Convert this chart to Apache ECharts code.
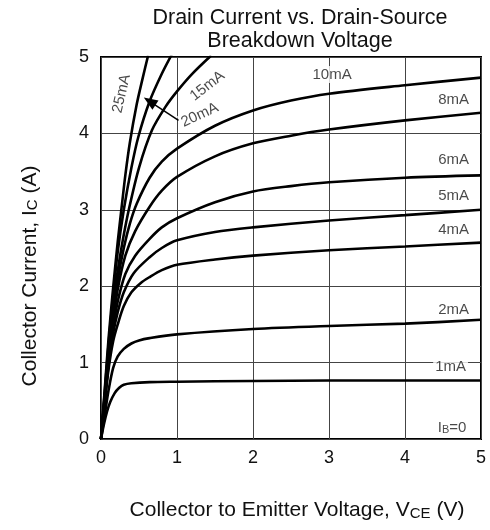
<!DOCTYPE html>
<html>
<head>
<meta charset="utf-8">
<script src="https://cdn.jsdelivr.net/npm/echarts@6/dist/echarts.min.js"></script>
<style>
  html, body { margin: 0; padding: 0; background: #fff; }
  #chart { width: 490px; height: 530px; }
</style>
</head>
<body>
<div id="chart"></div>
<script>
// Axis ticks
const vceTicks = [0, 1, 2, 3, 4, 5];
const icTicks = [0, 1, 2, 3, 4, 5];

// Output characteristics: [V_CE (V), I_C (A)] for each base current
const ib1mA = [[0,0],[0.04,0.2],[0.08,0.36],[0.12,0.48],[0.18,0.6],[0.24,0.67],[0.3,0.71],[0.4,0.73],[0.64,0.745],[1,0.75],[2,0.76],[3,0.765],[4,0.765],[5,0.765]];
const ib2mA = [[0,0],[0.05,0.32],[0.1,0.64],[0.16,0.93],[0.22,1.08],[0.3,1.18],[0.4,1.25],[0.5,1.29],[0.64,1.32],[1,1.37],[2,1.44],[3,1.48],[4,1.51],[5,1.56]];
const ib4mA = [[0,0],[0.05,0.48],[0.1,0.92],[0.16,1.28],[0.22,1.5],[0.3,1.74],[0.4,1.92],[0.52,2.04],[0.64,2.12],[0.8,2.21],[1,2.28],[1.5,2.35],[2,2.4],[3,2.47],[4,2.52],[5,2.57]];
const ib5mA = [[0,0],[0.05,0.5],[0.1,0.97],[0.16,1.38],[0.22,1.66],[0.3,1.92],[0.43,2.17],[0.64,2.38],[0.8,2.5],[1,2.6],[1.5,2.71],[2,2.77],[3,2.86],[4,2.93],[5,3.0]];
const ib6mA = [[0,0],[0.05,0.52],[0.1,1.0],[0.16,1.45],[0.22,1.8],[0.32,2.16],[0.45,2.4],[0.64,2.62],[0.8,2.77],[1,2.89],[1.5,3.1],[2,3.24],[2.5,3.31],[3,3.36],[4,3.42],[5,3.45]];
const ib8mA = [[0,0],[0.05,0.54],[0.1,1.05],[0.16,1.55],[0.22,1.96],[0.32,2.4],[0.45,2.72],[0.64,3.04],[0.8,3.25],[1,3.43],[1.5,3.7],[2,3.87],[2.5,3.97],[3,4.05],[4,4.17],[5,4.27]];
const ib10mA = [[0,0],[0.05,0.56],[0.1,1.1],[0.16,1.65],[0.22,2.08],[0.3,2.5],[0.38,2.82],[0.47,3.08],[0.64,3.42],[0.8,3.63],[1,3.8],[1.5,4.1],[2,4.3],[2.5,4.43],[3,4.52],[4,4.63],[5,4.73]];
const ib15mA = [[0,0],[0.05,0.58],[0.1,1.18],[0.16,1.75],[0.22,2.2],[0.29,2.62],[0.37,3.02],[0.5,3.55],[0.67,4.04],[0.85,4.35],[1,4.55],[1.2,4.78],[1.45,5.02]];
const ib20mA = [[0,0],[0.05,0.62],[0.1,1.25],[0.16,1.88],[0.22,2.45],[0.3,3.0],[0.4,3.55],[0.49,3.95],[0.64,4.42],[0.8,4.78],[0.93,5.03]];
const ib25mA = [[0,0],[0.05,0.66],[0.1,1.32],[0.16,1.98],[0.22,2.58],[0.27,3.02],[0.32,3.45],[0.38,3.88],[0.47,4.38],[0.55,4.73],[0.62,5.02]];

const curveNames = ['1mA','2mA','4mA','5mA','6mA','8mA','10mA','15mA','20mA','25mA'];
const curveData = [ib1mA, ib2mA, ib4mA, ib5mA, ib6mA, ib8mA, ib10mA, ib15mA, ib20mA, ib25mA];

// Where each curve's tag is written, and its slant in degrees
const tagLayout = [
  { text: '10mA', at: [3.04, 4.77], rotate: 0 },
  { text: '8mA',  at: [4.64, 4.44], rotate: 0 },
  { text: '6mA',  at: [4.64, 3.65], rotate: 0 },
  { text: '5mA',  at: [4.64, 3.18], rotate: 0 },
  { text: '4mA',  at: [4.64, 2.74], rotate: 0 },
  { text: '2mA',  at: [4.64, 1.69], rotate: 0 },
  { text: '1mA',  at: [4.6, 0.95],  rotate: 0 },
  { text: 'I{sub|B}=0', at: [4.62, 0.15], rotate: 0 },
  { text: '25mA', at: [0.27, 4.52], rotate: 77 },
  { text: '15mA', at: [1.4, 4.62], rotate: 38 },
  { text: '20mA', at: [1.3, 4.24], rotate: 25 }
];
// Pointer from the 20mA tag to its curve
const pointerFrom = [1.02, 4.17];
const pointerTo = [0.64, 4.42];

const FONT = 'Liberation Sans, Arial, sans-serif';
const INK = '#111';

const lineSeries = curveNames.map((name, i) => ({
  name: name,
  type: 'line',
  data: curveData[i],
  smooth: 0.3,
  showSymbol: false,
  symbol: 'none',
  clip: true,
  silent: true,
  lineStyle: { color: '#000', width: 2.6 },
  z: 3
}));

const tagSeries = {
  type: 'scatter',
  symbolSize: 0,
  silent: true,
  z: 5,
  data: tagLayout.map(t => ({
    value: t.at,
    label: {
      show: true,
      position: 'inside',
      formatter: t.text,
      rotate: t.rotate,
      fontFamily: FONT,
      fontSize: 15,
      color: '#1a1a1a',
      backgroundColor: '#fff',
      padding: [1, 2],
      rich: {
        sub: { fontSize: 11, color: '#1a1a1a', fontFamily: FONT, verticalAlign: 'bottom', padding: [3, 0, 0, 0] }
      }
    }
  })),
  markLine: {
    silent: true,
    symbol: ['none', 'triangle'],
    symbolSize: [11, 14],
    label: { show: false },
    lineStyle: { color: '#000', width: 1.5, type: 'solid' },
    data: [[{ coord: pointerFrom }, { coord: pointerTo }]],
    z: 6
  }
};

const chart = echarts.init(document.getElementById('chart'), null, { renderer: 'canvas' });
chart.setOption({
  animation: false,
  backgroundColor: '#fff',
  title: {
    text: 'Drain Current vs. Drain-Source\nBreakdown Voltage',
    left: 295,
    top: 2,
    textAlign: 'center',
    textStyle: { fontFamily: FONT, fontSize: 21.5, fontWeight: 'normal', color: INK, lineHeight: 23 }
  },
  grid: {
    left: 101, right: 9, top: 57, bottom: 91,
    show: true, borderColor: '#000', borderWidth: 2, backgroundColor: 'transparent'
  },
  xAxis: {
    type: 'value',
    min: vceTicks[0], max: vceTicks[vceTicks.length - 1], interval: 1,
    axisLine: { show: false },
    axisTick: { show: false },
    splitLine: { show: true, lineStyle: { color: '#444', width: 1 } },
    axisLabel: { fontFamily: FONT, fontSize: 18, color: INK, margin: 10 },
    name: 'Collector to Emitter Voltage, V{sub|CE} (V)',
    nameLocation: 'middle',
    nameGap: 61,
    nameTextStyle: {
      fontFamily: FONT, fontSize: 21, color: INK,
      padding: [0, 0, 0, 12],
      rich: { sub: { fontFamily: FONT, fontSize: 15, color: INK, verticalAlign: 'bottom', padding: [5, 0, 0, 0] } }
    }
  },
  yAxis: {
    type: 'value',
    min: icTicks[0], max: icTicks[icTicks.length - 1], interval: 1,
    axisLine: { show: false },
    axisTick: { show: false },
    splitLine: { show: true, lineStyle: { color: '#444', width: 1 } },
    axisLabel: { fontFamily: FONT, fontSize: 18, color: INK, margin: 12 }
  },
  graphic: [{
    type: 'text',
    x: 30,
    y: 276,
    rotation: Math.PI / 2,
    style: {
      text: 'Collector Current, I{sub|C} (A)',
      fontFamily: FONT,
      fontSize: 21,
      fill: INK,
      align: 'center',
      verticalAlign: 'middle',
      rich: { sub: { fontFamily: FONT, fontSize: 15, fill: INK, verticalAlign: 'bottom', padding: [5, 0, 0, 0] } }
    }
  }],
  series: lineSeries.concat([tagSeries])
});
</script>
</body>
</html>
